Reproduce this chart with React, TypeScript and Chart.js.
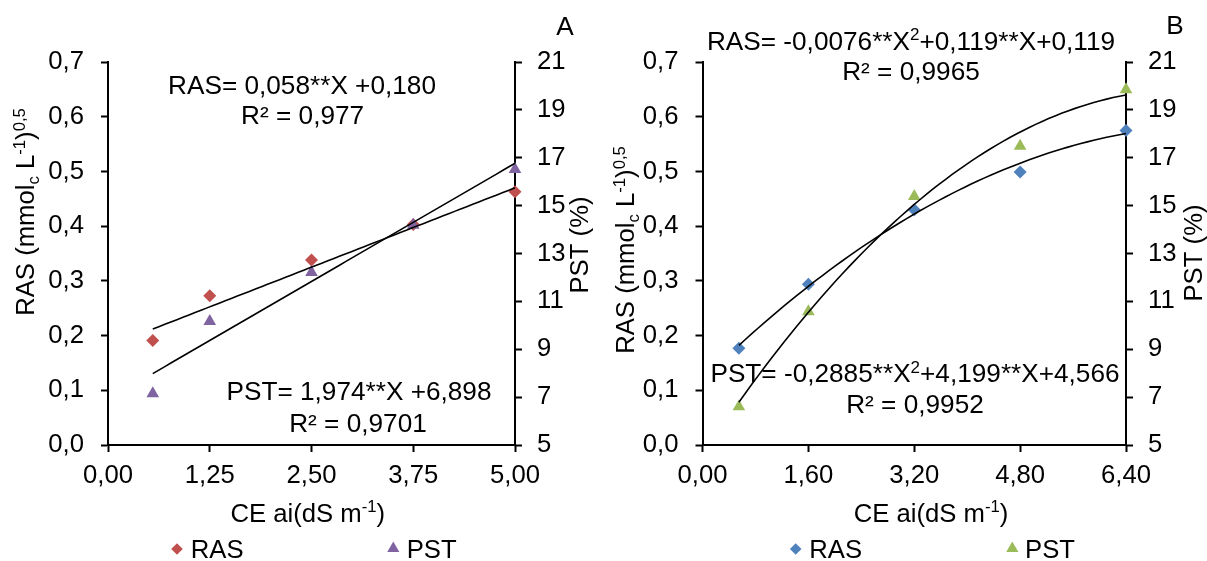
import React, { useEffect, useRef } from 'react';
import { Chart, registerables } from 'chart.js';

Chart.register(...registerables);

// Irrigation water salinity levels (dS m-1) and measured soil responses
const CE_A = [0.55, 1.25, 2.5, 3.75, 5.0];
const RAS_A = [0.191, 0.273, 0.338, 0.403, 0.463];
const PST_A = [7.15, 10.17, 12.21, 14.19, 16.52];

const CE_B = [0.55, 1.6, 3.2, 4.8, 6.4];
const RAS_B = [0.177, 0.294, 0.43, 0.499, 0.575];
const PST_B = [6.6, 10.57, 15.39, 17.49, 19.85];

// Regression coefficients, constant term first
const RAS_FIT_A = [0.18, 0.058];
const PST_FIT_A = [6.898, 1.974];
const RAS_FIT_B = [0.119, 0.119, -0.0076];
const PST_FIT_B = [4.566, 4.199, -0.2885];

// Axis ticks
const X_TICKS_A = [0, 1.25, 2.5, 3.75, 5];
const X_TICKS_B = [0, 1.6, 3.2, 4.8, 6.4];
const RAS_TICKS = [0, 0.1, 0.2, 0.3, 0.4, 0.5, 0.6, 0.7];
const PST_TICKS = [5, 7, 9, 11, 13, 15, 17, 19, 21];

const FONT = '"Liberation Sans", Arial, Helvetica, sans-serif';
const TICK_SIZE = 25.7;
const TEXT_SIZE = 26.2;

type Seg = { t: string; k?: 'sup' | 'sub' };
type Note = { segs: Seg[]; x: number; y: number; size?: number; angle?: number };

interface PanelSpec {
  width: number;
  ce: number[];
  ras: number[];
  pst: number[];
  rasFit: number[];
  pstFit: number[];
  xTicks: number[];
  rasColor: string;
  pstColor: string;
  leftW: number;
  rightW: number;
  notes: Note[];
  legend: { rasMark: number; rasText: number; pstMark: number; pstText: number; y: number };
}

const poly = (c: number[], x: number) => c.reduce((s, k, i) => s + k * Math.pow(x, i), 0);

function fitCurve(c: number[], xs: number[], n: number) {
  const x0 = xs[0];
  const x1 = xs[xs.length - 1];
  const pts: { x: number; y: number }[] = [];
  for (let i = 0; i <= n; i++) {
    const x = x0 + ((x1 - x0) * i) / n;
    pts.push({ x, y: poly(c, x) });
  }
  return pts;
}

const comma = (v: number, d: number) => v.toFixed(d).replace('.', ',');

function segFont(seg: Seg, size: number) {
  return `${seg.k ? size * 0.65 : size}px ${FONT}`;
}

function richWidth(ctx: CanvasRenderingContext2D, segs: Seg[], size: number) {
  let w = 0;
  for (const s of segs) {
    ctx.font = segFont(s, size);
    w += ctx.measureText(s.t).width;
  }
  return w;
}

// Draws mixed normal / superscript / subscript text centred on (cx, cy), cy being the cap-height centre
function drawRich(
  ctx: CanvasRenderingContext2D,
  segs: Seg[],
  cx: number,
  cy: number,
  size: number,
  angle = 0,
  align: 'center' | 'left' = 'center'
) {
  ctx.save();
  ctx.translate(cx, cy);
  ctx.rotate(angle);
  const w = richWidth(ctx, segs, size);
  let x = align === 'center' ? -w / 2 : 0;
  const base = (size * 0.716) / 2;
  ctx.textAlign = 'left';
  ctx.textBaseline = 'alphabetic';
  for (const s of segs) {
    ctx.font = segFont(s, size);
    const dy = s.k === 'sup' ? -size * 0.36 : s.k === 'sub' ? size * 0.2 : 0;
    ctx.fillText(s.t, x, base + dy);
    x += ctx.measureText(s.t).width;
  }
  ctx.restore();
}

function diamond(ctx: CanvasRenderingContext2D, x: number, y: number, r: number) {
  ctx.beginPath();
  ctx.moveTo(x, y - r);
  ctx.lineTo(x + r, y);
  ctx.lineTo(x, y + r);
  ctx.lineTo(x - r, y);
  ctx.closePath();
  ctx.fill();
}

function triangle(ctx: CanvasRenderingContext2D, x: number, y: number, r: number) {
  ctx.beginPath();
  ctx.moveTo(x, y - r);
  ctx.lineTo(x + r * 0.866, y + r * 0.5);
  ctx.lineTo(x - r * 0.866, y + r * 0.5);
  ctx.closePath();
  ctx.fill();
}

const CE_TITLE: Seg[] = [{ t: 'CE ai(dS m' }, { t: '-1', k: 'sup' }, { t: ')' }];
const RAS_TITLE: Seg[] = [
  { t: 'RAS (mmol' },
  { t: 'c', k: 'sub' },
  { t: ' L' },
  { t: '-1', k: 'sup' },
  { t: ')' },
  { t: '0,5', k: 'sup' },
];
const PST_TITLE: Seg[] = [{ t: 'PST (%)' }];

const PANEL_A: PanelSpec = {
  width: 603,
  ce: CE_A,
  ras: RAS_A,
  pst: PST_A,
  rasFit: RAS_FIT_A,
  pstFit: PST_FIT_A,
  xTicks: X_TICKS_A,
  rasColor: '#C0504D',
  pstColor: '#8064A2',
  leftW: 108,
  rightW: 88,
  notes: [
    { segs: [{ t: 'A' }], x: 565, y: 25.7 },
    { segs: [{ t: 'RAS= 0,058**X +0,180' }], x: 302, y: 84.5 },
    { segs: [{ t: 'R² = 0,977' }], x: 302.6, y: 114.6 },
    { segs: [{ t: 'PST= 1,974**X +6,898' }], x: 359, y: 390.4 },
    { segs: [{ t: 'R² = 0,9701' }], x: 358, y: 422.2 },
    { segs: CE_TITLE, x: 307.8, y: 512.5, size: TICK_SIZE },
    { segs: RAS_TITLE, x: 25, y: 212, size: TICK_SIZE, angle: -Math.PI / 2 },
    { segs: PST_TITLE, x: 579, y: 245, size: TICK_SIZE, angle: -Math.PI / 2 },
  ],
  legend: { rasMark: 177, rasText: 190.7, pstMark: 393.3, pstText: 406.7, y: 549 },
};

const PANEL_B: PanelSpec = {
  width: 604,
  ce: CE_B,
  ras: RAS_B,
  pst: PST_B,
  rasFit: RAS_FIT_B,
  pstFit: PST_FIT_B,
  xTicks: X_TICKS_B,
  rasColor: '#4F81BD',
  pstColor: '#9BBB59',
  leftW: 99.5,
  rightW: 81,
  notes: [
    { segs: [{ t: 'B' }], x: 572, y: 25 },
    {
      segs: [{ t: 'RAS= -0,0076**X' }, { t: '2', k: 'sup' }, { t: '+0,119**X+0,119' }],
      x: 308,
      y: 40.2,
    },
    { segs: [{ t: 'R² = 0,9965' }], x: 308, y: 70.4 },
    {
      segs: [{ t: 'PST= -0,2885**X' }, { t: '2', k: 'sup' }, { t: '+4,199**X+4,566' }],
      x: 312,
      y: 373,
    },
    { segs: [{ t: 'R² = 0,9952' }], x: 312, y: 403.8 },
    { segs: CE_TITLE, x: 328, y: 512.5, size: TICK_SIZE },
    { segs: RAS_TITLE, x: 22, y: 250, size: TICK_SIZE, angle: -Math.PI / 2 },
    { segs: PST_TITLE, x: 589.5, y: 253, size: TICK_SIZE, angle: -Math.PI / 2 },
  ],
  legend: { rasMark: 192.7, rasText: 206.3, pstMark: 409.3, pstText: 422, y: 549 },
};

function makeChart(canvas: HTMLCanvasElement, p: PanelSpec) {
  const axisGrid = {
    drawOnChartArea: false,
    drawTicks: true,
    tickLength: 7,
    tickWidth: 2,
    tickColor: '#000',
  };
  const border = { color: '#000', width: 2 };
  const tickFont = { family: FONT, size: TICK_SIZE };

  const decor = {
    id: 'panelDecor',
    afterDraw(chart: Chart) {
      const ctx = chart.ctx;
      ctx.save();
      ctx.fillStyle = '#000';
      for (const n of p.notes) {
        drawRich(ctx, n.segs, n.x, n.y, n.size ?? TEXT_SIZE, n.angle ?? 0);
      }
      const lg = p.legend;
      ctx.fillStyle = p.rasColor;
      diamond(ctx, lg.rasMark, lg.y, 5.8);
      ctx.fillStyle = p.pstColor;
      triangle(ctx, lg.pstMark, lg.y - 0.5, 7);
      ctx.fillStyle = '#000';
      drawRich(ctx, [{ t: 'RAS' }], lg.rasText, lg.y, TICK_SIZE, 0, 'left');
      drawRich(ctx, [{ t: 'PST' }], lg.pstText, lg.y, TICK_SIZE, 0, 'left');
      ctx.restore();
    },
  };

  return new Chart(canvas, {
    type: 'scatter',
    data: {
      datasets: [
        {
          label: 'RAS fit',
          data: fitCurve(p.rasFit, p.ce, 60),
          yAxisID: 'y',
          showLine: true,
          borderColor: '#000',
          borderWidth: 1.6,
          pointRadius: 0,
          fill: false,
          clip: false,
        },
        {
          label: 'PST fit',
          data: fitCurve(p.pstFit, p.ce, 60),
          yAxisID: 'y1',
          showLine: true,
          borderColor: '#000',
          borderWidth: 1.6,
          pointRadius: 0,
          fill: false,
          clip: false,
        },
        {
          label: 'PST',
          data: p.ce.map((x, i) => ({ x, y: p.pst[i] })),
          yAxisID: 'y1',
          pointStyle: 'triangle',
          pointRadius: 7.3,
          pointBorderWidth: 0,
          pointBackgroundColor: p.pstColor,
          backgroundColor: p.pstColor,
          borderColor: p.pstColor,
          clip: false,
        },
        {
          label: 'RAS',
          data: p.ce.map((x, i) => ({ x, y: p.ras[i] })),
          yAxisID: 'y',
          pointStyle: 'rectRot',
          pointRadius: 6.5,
          pointBorderWidth: 0,
          pointBackgroundColor: p.rasColor,
          backgroundColor: p.rasColor,
          borderColor: p.rasColor,
          clip: false,
        },
      ],
    },
    options: {
      animation: false,
      responsive: false,
      events: [],
      layout: { padding: { top: 62, left: 0, right: 0, bottom: 0 } },
      plugins: { legend: { display: false }, tooltip: { enabled: false } },
      scales: {
        x: {
          type: 'linear',
          min: p.xTicks[0],
          max: p.xTicks[p.xTicks.length - 1],
          afterBuildTicks: (s: any) => {
            s.ticks = p.xTicks.map((v) => ({ value: v }));
          },
          afterFit: (s: any) => {
            s.height = 116;
          },
          ticks: {
            font: tickFont,
            color: '#000',
            padding: 8.4,
            autoSkip: false,
            maxRotation: 0,
            callback: (v: any) => comma(Number(v), 2),
          },
          grid: axisGrid,
          border,
        },
        y: {
          type: 'linear',
          position: 'left',
          min: 0,
          max: 0.7,
          afterBuildTicks: (s: any) => {
            s.ticks = RAS_TICKS.map((v) => ({ value: v }));
          },
          afterFit: (s: any) => {
            s.width = p.leftW;
          },
          ticks: {
            font: tickFont,
            color: '#000',
            padding: 17,
            autoSkip: false,
            callback: (v: any) => comma(Number(v), 1),
          },
          grid: axisGrid,
          border,
        },
        y1: {
          type: 'linear',
          position: 'right',
          min: 5,
          max: 21,
          afterBuildTicks: (s: any) => {
            s.ticks = PST_TICKS.map((v) => ({ value: v }));
          },
          afterFit: (s: any) => {
            s.width = p.rightW;
          },
          ticks: {
            font: tickFont,
            color: '#000',
            padding: 15,
            autoSkip: false,
            callback: (v: any) => String(Math.round(Number(v))),
          },
          grid: axisGrid,
          border,
        },
      },
    },
    plugins: [decor],
  } as any);
}

function Panel({ spec, left }: { spec: PanelSpec; left: number }) {
  const ref = useRef<HTMLCanvasElement | null>(null);
  useEffect(() => {
    if (!ref.current) return;
    const chart = makeChart(ref.current, spec);
    return () => chart.destroy();
  }, [spec]);
  return (
    <canvas
      ref={ref}
      width={spec.width}
      height={561}
      style={{ position: 'absolute', left, top: 0, width: spec.width, height: 561, display: 'block' }}
    />
  );
}

export default function App() {
  return (
    <div style={{ position: 'absolute', left: 0, top: 0, width: 1207, height: 561, background: '#fff' }}>
      <Panel spec={PANEL_A} left={0} />
      <Panel spec={PANEL_B} left={603} />
    </div>
  );
}
